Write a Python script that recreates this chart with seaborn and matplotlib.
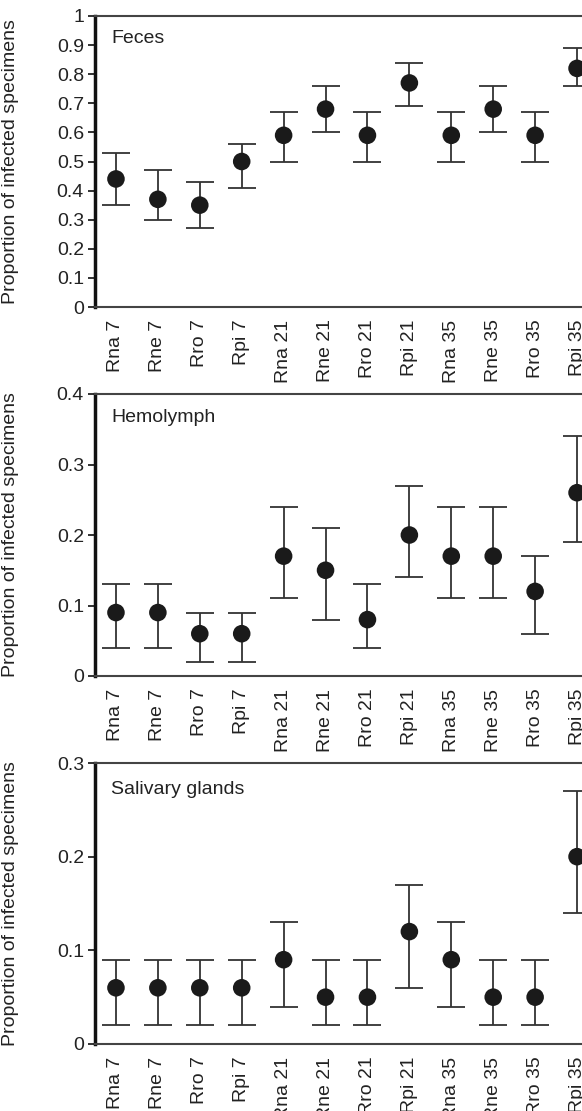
import numpy as np
import pandas as pd
import matplotlib
matplotlib.use("Agg")
import matplotlib.pyplot as plt
import seaborn as sns

categories = ["Rna 7", "Rne 7", "Rro 7", "Rpi 7",
              "Rna 21", "Rne 21", "Rro 21", "Rpi 21",
              "Rna 35", "Rne 35", "Rro 35", "Rpi 35"]

feces_val = [0.44, 0.37, 0.35, 0.50, 0.59, 0.68, 0.59, 0.77, 0.59, 0.68, 0.59, 0.82]
feces_low = [0.35, 0.30, 0.27, 0.41, 0.50, 0.60, 0.50, 0.69, 0.50, 0.60, 0.50, 0.76]
feces_high = [0.53, 0.47, 0.43, 0.56, 0.67, 0.76, 0.67, 0.84, 0.67, 0.76, 0.67, 0.89]

hemo_val = [0.09, 0.09, 0.06, 0.06, 0.17, 0.15, 0.08, 0.20, 0.17, 0.17, 0.12, 0.26]
hemo_low = [0.04, 0.04, 0.02, 0.02, 0.11, 0.08, 0.04, 0.14, 0.11, 0.11, 0.06, 0.19]
hemo_high = [0.13, 0.13, 0.09, 0.09, 0.24, 0.21, 0.13, 0.27, 0.24, 0.24, 0.17, 0.34]

sal_val = [0.06, 0.06, 0.06, 0.06, 0.09, 0.05, 0.05, 0.12, 0.09, 0.05, 0.05, 0.20]
sal_low = [0.02, 0.02, 0.02, 0.02, 0.04, 0.02, 0.02, 0.06, 0.04, 0.02, 0.02, 0.14]
sal_high = [0.09, 0.09, 0.09, 0.09, 0.13, 0.09, 0.09, 0.17, 0.13, 0.09, 0.09, 0.27]

panels = [
    ("Feces", feces_val, feces_low, feces_high, 1.0, [0, 0.1, 0.2, 0.3, 0.4, 0.5, 0.6, 0.7, 0.8, 0.9, 1.0],
     ["0", "0.1", "0.2", "0.3", "0.4", "0.5", "0.6", "0.7", "0.8", "0.9", "1"]),
    ("Hemolymph", hemo_val, hemo_low, hemo_high, 0.4, [0, 0.1, 0.2, 0.3, 0.4],
     ["0", "0.1", "0.2", "0.3", "0.4"]),
    ("Salivary glands", sal_val, sal_low, sal_high, 0.3, [0, 0.1, 0.2, 0.3],
     ["0", "0.1", "0.2", "0.3"]),
]

sns.set_theme(style="white")
plt.rcParams["font.family"] = ["Liberation Sans", "DejaVu Sans"]

W, H = 582, 1111
fig = plt.figure(figsize=(W / 100, H / 100), dpi=100)

# pixel boxes: (top, bottom)
boxes = [(16, 307), (394, 676), (763, 1044)]
left_px, right_px = 95, 598
text_y = [0.921, 0.918, 0.907]
textc = "#222222"

for (name, val, low, high, ymax, ticks, ticklabels), (tp, bp), ty in zip(panels, boxes, text_y):
    ax = fig.add_axes([left_px / W, 1 - bp / H, (right_px - left_px) / W, (bp - tp) / H])
    df = pd.DataFrame({"group": categories, "value": val, "low": low, "high": high})
    x = np.arange(len(categories))
    yerr = np.vstack([df["value"] - df["low"], df["high"] - df["value"]])
    ax.errorbar(x, df["value"], yerr=yerr, fmt="none", ecolor="#333333",
                elinewidth=1.3, capsize=10, capthick=1.3, zorder=2)
    sns.scatterplot(data=df, x="group", y="value", ax=ax, s=160, color="#1a1a1a",
                    edgecolor="none", zorder=3, legend=False)
    ax.set_xlim(-0.5, len(categories) - 0.5)
    ax.set_ylim(0, ymax)
    ax.set_yticks(ticks)
    ax.set_yticklabels(ticklabels)
    ax.set_xticks(x)
    ax.set_xticklabels(categories, rotation=90)
    ax.tick_params(axis="y", which="major", direction="out", length=5, width=1.3,
                   color="#222222", pad=3, labelsize=14, labelcolor=textc, left=True)
    ax.tick_params(axis="x", length=0, pad=9, labelsize=14, labelcolor=textc)
    for sp in ["top", "bottom"]:
        ax.spines[sp].set_color("#444444")
        ax.spines[sp].set_linewidth(1.5)
    ax.spines["left"].set_color("#111111")
    ax.spines["left"].set_linewidth(2.5)
    ax.spines["right"].set_visible(False)
    ax.set_xlabel("")
    ax.set_ylabel("Proportion of infected specimens", fontsize=14, color=textc)
    ax.yaxis.set_label_coords(-0.151, 0.5)
    ax.text(0.032, ty, name, transform=ax.transAxes, fontsize=14, color=textc,
            ha="left", va="center")
    ax.grid(False)

fig.savefig("out.png", dpi=100)
